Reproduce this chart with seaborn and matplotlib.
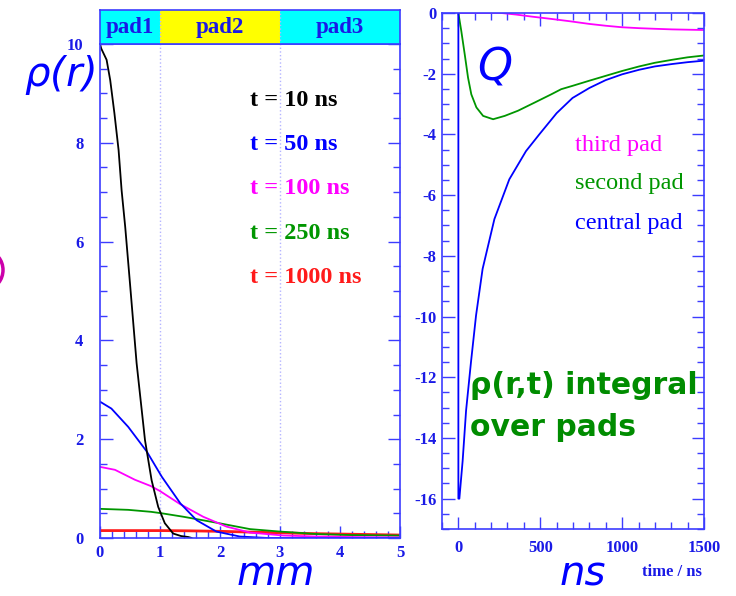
import numpy as np
import pandas as pd
import matplotlib
matplotlib.use("Agg")
import matplotlib.pyplot as plt
from matplotlib.ticker import MultipleLocator
from matplotlib.patches import Arc
import seaborn as sns

# ---------------- data (left panel: rho(r) vs r in mm) ----------------
r_t10 = [0.0, 0.02, 0.11, 0.17, 0.24, 0.31, 0.36, 0.42, 0.50, 0.61, 0.75, 0.86, 0.97, 1.08, 1.22, 1.35, 1.47, 1.53]
rho_t10 = [10.0, 9.91, 9.68, 9.27, 8.60, 7.85, 7.04, 6.30, 5.15, 3.54, 1.98, 1.17, 0.63, 0.30, 0.09, 0.04, 0.02, 0.0]

r_t50 = [0.0, 0.19, 0.47, 0.78, 1.03, 1.34, 1.61, 1.94, 2.33, 2.80, 3.5, 4.0, 5.0]
rho_t50 = [2.76, 2.62, 2.25, 1.75, 1.24, 0.70, 0.36, 0.13, 0.03, 0.0, 0.0, 0.0, 0.0]

r_t100 = [0.0, 0.25, 0.58, 0.85, 1.0, 1.33, 1.72, 2.11, 2.50, 3.06, 3.6, 4.2, 5.0]
rho_t100 = [1.44, 1.38, 1.18, 1.05, 0.95, 0.69, 0.43, 0.23, 0.11, 0.05, 0.03, 0.02, 0.01]

r_t250 = [0.0, 0.47, 0.85, 1.03, 1.39, 1.94, 2.50, 3.0, 3.61, 4.17, 5.0]
rho_t250 = [0.59, 0.57, 0.53, 0.50, 0.43, 0.31, 0.18, 0.13, 0.08, 0.06, 0.05]

r_t1000 = [0.0, 1.0, 1.5, 2.0, 2.5, 3.0, 3.5, 4.0, 4.5, 5.0]
rho_t1000 = [0.15, 0.15, 0.145, 0.135, 0.12, 0.105, 0.09, 0.08, 0.07, 0.06]

time_labels = ["t = 10 ns", "t = 50 ns", "t = 100 ns", "t = 250 ns", "t = 1000 ns"]
pad_labels = ["pad1", "pad2", "pad3"]
pad_edges = [0, 1, 3, 5]

# ---------------- data (right panel: Q vs time in ns) ----------------
t_third = [0, 100, 200, 262, 350, 450, 560, 678, 800, 900, 1000, 1104, 1200, 1306, 1400, 1500]
q_third = [0, 0, 0, 0, -0.05, -0.12, -0.19, -0.27, -0.36, -0.42, -0.47, -0.50, -0.52, -0.54, -0.55, -0.56]

t_second = [0, 18, 39, 59, 79, 110, 151, 212, 283, 364, 466, 567, 628, 697, 800, 900, 1000, 1104, 1200, 1307, 1400, 1500]
q_second = [0, -0.60, -1.37, -2.13, -2.68, -3.11, -3.39, -3.50, -3.39, -3.22, -2.95, -2.68, -2.51, -2.40, -2.23, -2.07, -1.91, -1.76, -1.64, -1.54, -1.46, -1.40]

t_central = [0, 0, 6, 26, 47, 77, 108, 148, 220, 311, 413, 494, 600, 697, 800, 900, 1000, 1104, 1200, 1307, 1400, 1500]
q_central = [0, -16.0, -16.0, -14.76, -13.1, -11.5, -9.96, -8.43, -6.79, -5.48, -4.55, -4.0, -3.3, -2.8, -2.47, -2.21, -2.02, -1.87, -1.76, -1.68, -1.62, -1.57]

pad_names = ["third pad", "second pad", "central pad"]

# ---------------- style ----------------
sns.set_style("white")
plt.rcParams["font.family"] = ["DejaVu Sans"]
plt.rcParams["axes.unicode_minus"] = False

W, H = 736, 596
fig = plt.figure(figsize=(W / 100, H / 100), dpi=100)

def fx(x):
    return x / W

def fy(y):
    return 1 - y / H

AX_BLUE = "#3c3cff"
LBL_BLUE = "#1a1ae6"
GREEN = "#009600"
MAGENTA = "#ff00ff"
RED = "#ff1a1a"
BLUE = "#0000ff"

def style_axes(ax, top_ticks):
    for s in ax.spines.values():
        s.set_color(AX_BLUE)
        s.set_linewidth(1.2)
    ax.tick_params(which="both", direction="in", color=AX_BLUE, width=1.0,
                   left=True, right=True, bottom=True, top=top_ticks,
                   labelcolor=LBL_BLUE)
    ax.tick_params(which="major", length=9)
    ax.tick_params(which="minor", length=5)
    for lab in ax.get_xticklabels() + ax.get_yticklabels():
        lab.set_fontfamily("Liberation Serif")
        lab.set_fontweight("bold")
        lab.set_fontsize(12)
    ax.set_xlabel("")
    ax.set_ylabel("")
    ax.grid(False)

# ---------------- left panel ----------------
axL = fig.add_axes([fx(100), fy(538), fx(400) - fx(100), fy(44) - fy(538)])
left_series = [
    (r_t10, rho_t10, "black", 1.3),
    (r_t50, rho_t50, BLUE, 1.3),
    (r_t100, rho_t100, MAGENTA, 1.3),
    (r_t250, rho_t250, GREEN, 1.3),
    (r_t1000, rho_t1000, RED, 2.0),
]
for x, y, c, lw in left_series[::-1]:
    sns.lineplot(x=x, y=y, ax=axL, color=c, linewidth=lw, estimator=None, sort=False)
for e in pad_edges[1:-1]:
    axL.axvline(e, color="#b4b4ff", linestyle=":", linewidth=1.0, zorder=0)
axL.set_xlim(0, 5)
axL.set_ylim(0, 10)
axL.xaxis.set_major_locator(MultipleLocator(1))
axL.xaxis.set_minor_locator(MultipleLocator(0.2))
axL.yaxis.set_major_locator(MultipleLocator(2))
axL.yaxis.set_minor_locator(MultipleLocator(0.5))
style_axes(axL, top_ticks=False)
axL.tick_params(axis="y", pad=12)
axL.tick_params(axis="x", pad=5)

colors_t = ["black", BLUE, MAGENTA, GREEN, RED]
for i, (lab, c) in enumerate(zip(time_labels, colors_t)):
    fig.text(fx(250), fy(100 + i * 44.5), lab, color=c, fontsize=17.5,
             fontfamily="Liberation Serif", fontweight="bold", ha="left", va="center")

# header with pads
axH = fig.add_axes([fx(100), fy(44), fx(400) - fx(100), fy(10) - fy(44)])
pad_colors = ["#00ffff", "#ffff00", "#00ffff"]
for i, lab in enumerate(pad_labels):
    axH.axvspan(pad_edges[i], pad_edges[i + 1], color=pad_colors[i], lw=0)
    axH.text((pad_edges[i] + pad_edges[i + 1]) / 2, 0.5, lab, color=LBL_BLUE,
             fontsize=16.5, fontfamily="Liberation Serif", fontweight="bold",
             ha="center", va="center")
for e in pad_edges[1:-1]:
    axH.axvline(e, color="#b4b4ff", linestyle=":", linewidth=1.0)
axH.set_xlim(0, 5)
axH.set_ylim(0, 1)
axH.set_xticks([])
axH.set_yticks([])
for s in axH.spines.values():
    s.set_color(AX_BLUE)
    s.set_linewidth(1.2)

# ---------------- right panel ----------------
axR = fig.add_axes([fx(442), fy(529), fx(704) - fx(442), fy(13) - fy(529)])
right_series = [
    (t_third, q_third, MAGENTA),
    (t_second, q_second, GREEN),
    (t_central, q_central, BLUE),
]
for x, y, c in right_series:
    sns.lineplot(x=x, y=y, ax=axR, color=c, linewidth=1.3, estimator=None, sort=False)
axR.set_xlim(-100, 1500)
axR.set_ylim(-17, 0)
axR.xaxis.set_major_locator(MultipleLocator(500))
axR.xaxis.set_minor_locator(MultipleLocator(100))
axR.yaxis.set_major_locator(MultipleLocator(2))
axR.yaxis.set_minor_locator(MultipleLocator(0.5))
style_axes(axR, top_ticks=True)
axR.tick_params(axis="y", pad=4)
axR.tick_params(axis="x", pad=8)

for i, (lab, c) in enumerate(zip(pad_names, [MAGENTA, GREEN, BLUE])):
    fig.text(fx(575), fy(145 + i * 39), lab, color=c, fontsize=17.5,
             fontfamily="Liberation Serif", ha="left", va="center")

# ---------------- annotations ----------------
fig.text(fx(60), fy(75), r"$\rho$(r)", color=BLUE, fontsize=29, style="italic",
         ha="center", va="center")
fig.text(fx(276), fy(585), "mm", color=BLUE, fontsize=29, style="italic",
         ha="center", va="baseline")
fig.text(fx(583), fy(585), "ns", color=BLUE, fontsize=29, style="italic",
         ha="center", va="baseline")
fig.text(fx(672), fy(572), "time / ns", color=LBL_BLUE, fontsize=12,
         fontfamily="Liberation Serif", fontweight="bold", ha="center", va="center")
fig.text(fx(495), fy(68), "Q", color=BLUE, fontsize=32, style="italic",
         ha="center", va="center")
fig.text(fx(470), fy(385), "ρ(r,t) integral", color="#008c00", fontsize=21.5,
         fontweight="bold", ha="left", va="center")
fig.text(fx(470), fy(428), "over pads", color="#008c00", fontsize=21.5,
         fontweight="bold", ha="left", va="center")

# cut-off magenta mark at the left edge
arc = Arc((fx(-12), fy(270)), fx(30), fy(0) - fy(36), theta1=-90, theta2=90,
          transform=fig.transFigure, color="#cc00aa", linewidth=2.5)
fig.add_artist(arc)

fig.savefig("out.png", dpi=100)
